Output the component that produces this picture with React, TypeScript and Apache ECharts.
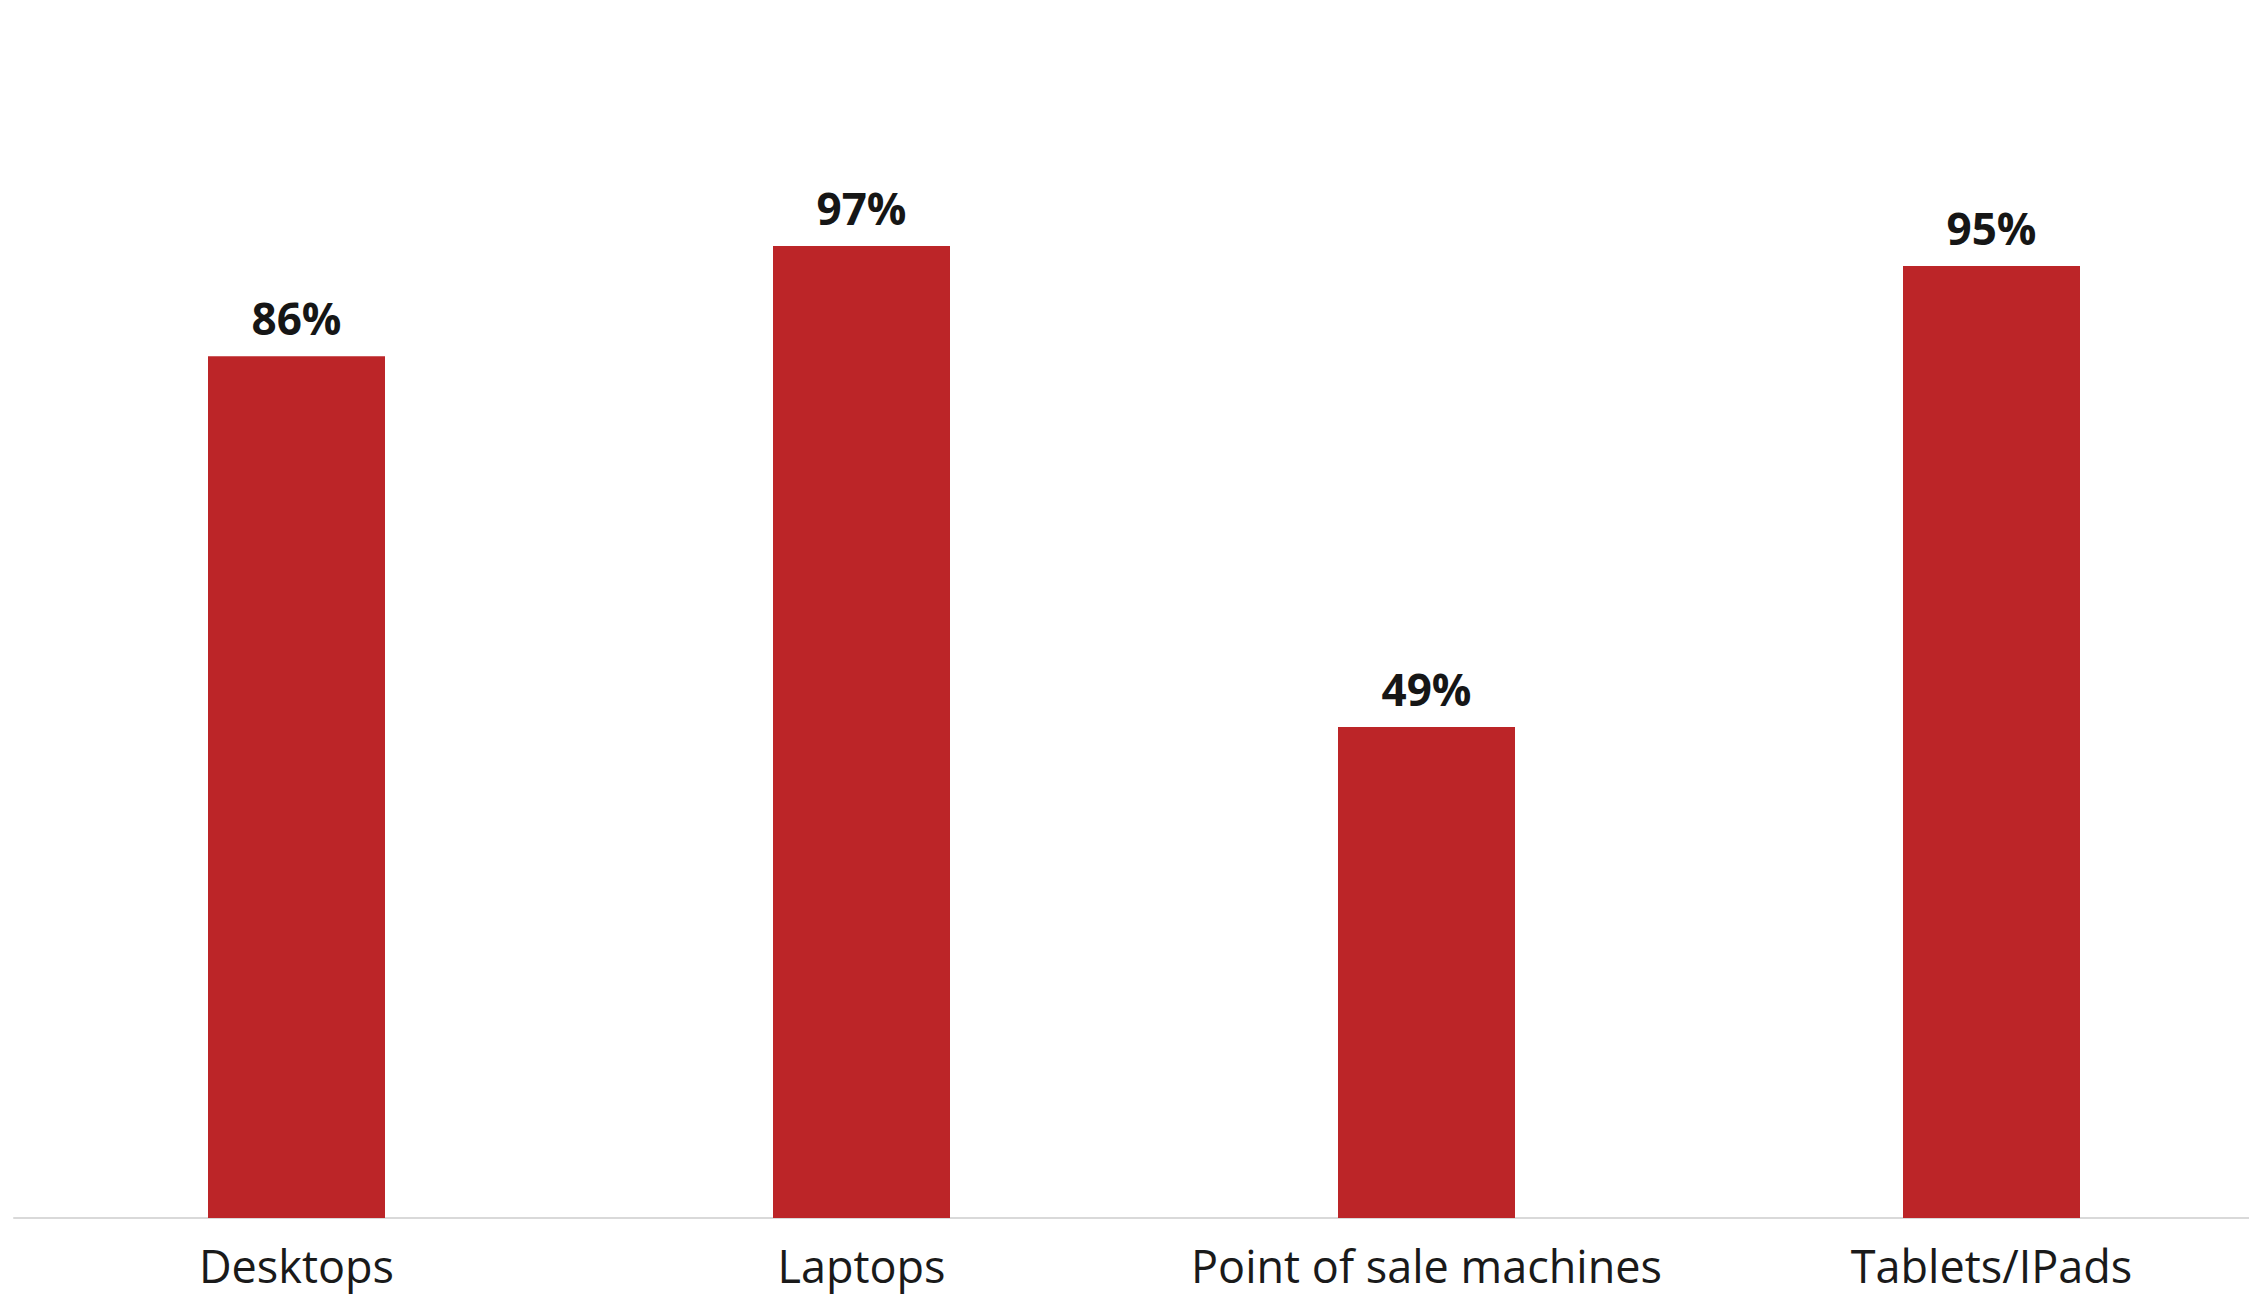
import React, { useEffect, useRef } from "react";
import * as echarts from "echarts";

const categories = ["Desktops", "Laptops", "Point of sale machines", "Tablets/IPads"];
const values = [86, 97, 49, 95];

export default function App() {
  const ref = useRef<HTMLDivElement>(null);
  useEffect(() => {
    if (!ref.current) return;
    const chart = echarts.init(ref.current, undefined, { renderer: "svg" });
    chart.setOption({
      animation: false,
      backgroundColor: "#ffffff",
      grid: { left: 14, top: 216, bottom: 78, width: 2260, outerBoundsMode: "none", containLabel: false },
      xAxis: {
        type: "category",
        data: categories,
        axisLine: { show: true, lineStyle: { color: "#d9d9d9", width: 2 } },
        axisTick: { show: false },
        axisLabel: {
          interval: 0,
          color: "#1a1a1a",
          fontSize: 45,
          lineHeight: 50,
          fontFamily: "Open Sans",
          margin: 22,
        },
      },
      yAxis: {
        type: "value",
        min: 0,
        max: 100,
        show: false,
        splitLine: { show: false },
      },
      series: [
        {
          type: "bar",
          data: values,
          barWidth: 177,
          itemStyle: { color: "#bc2528" },
          label: {
            show: true,
            position: "top",
            distance: 16,
            formatter: "{c}%",
            color: "#161616",
            fontSize: 44,
            fontWeight: "bold",
            fontFamily: "Open Sans",
          },
        },
      ],
    });
    return () => chart.dispose();
  }, []);
  return (
    <div
      ref={ref}
      style={{ position: "fixed", left: 0, top: 0, width: 2249, height: 1296 }}
    />
  );
}
